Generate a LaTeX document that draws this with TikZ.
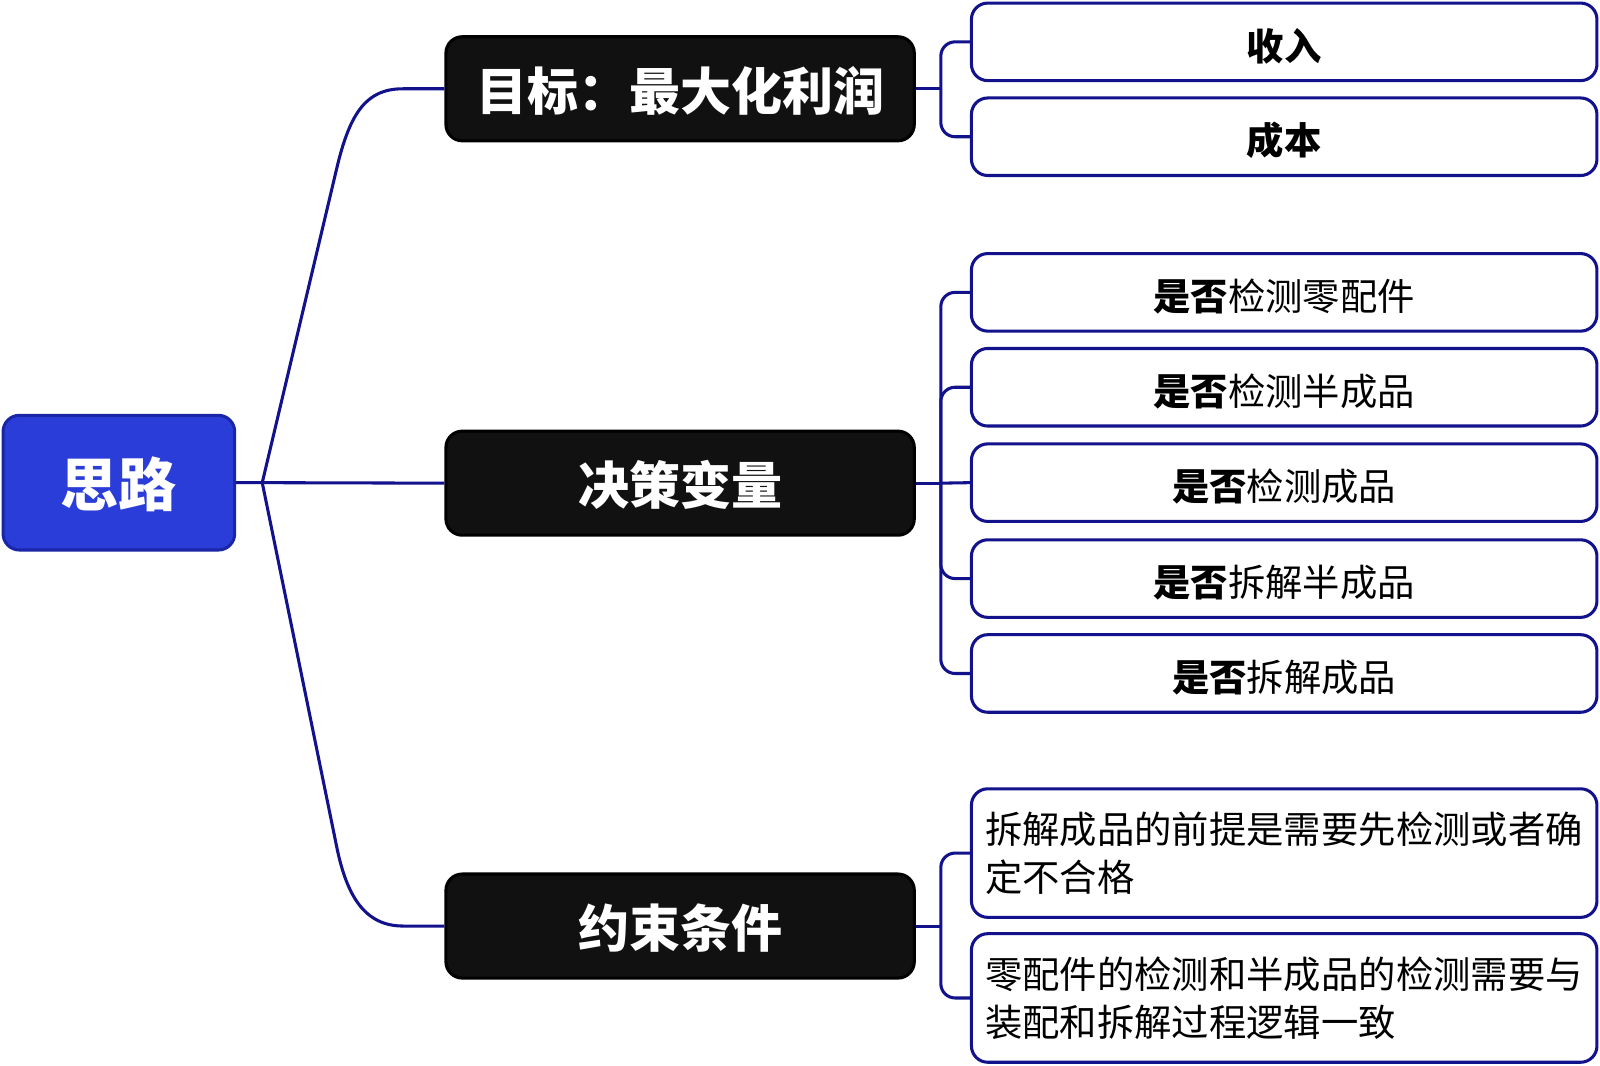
\documentclass[tikz,border=0pt]{standalone}
\usepackage{fontspec}
\setmainfont{Noto Sans CJK SC}
\definecolor{navy}{HTML}{12128C}
\definecolor{rootfill}{HTML}{2A3DD8}
\definecolor{rootline}{HTML}{1A26A6}
\definecolor{blk}{HTML}{111111}
\begin{document}
\begin{tikzpicture}[x=0.5pt,y=-0.5pt,
  rootbox/.style={draw=rootline,fill=rootfill,line width=1.5pt,rounded corners=8pt,
    minimum width=113.5pt,minimum height=66pt,inner sep=0pt,text=white,
    text height=27pt,text depth=3.4pt,
    font=\fontsize{28.5pt}{34pt}\selectfont\bfseries},
  mainbox/.style={draw=black,fill=blk,line width=1.5pt,rounded corners=8pt,
    minimum width=229.5pt,minimum height=51pt,inner sep=0pt,text=white,
    text height=24pt,text depth=3pt,
    font=\fontsize{25pt}{30pt}\selectfont\bfseries},
  leafbox/.style={draw=navy,fill=white,line width=1.5pt,rounded corners=8pt,
    minimum width=306.5pt,minimum height=38pt,inner sep=0pt,text=black,
    font=\fontsize{18.3pt}{23.5pt}\selectfont},
  onebox/.style={leafbox,text height=20pt,text depth=2.2pt},
  longbox/.style={leafbox,minimum height=63pt,align=left,text width=293pt},
  conn/.style={draw=navy,line width=1.5pt},
  brk/.style={conn,rounded corners=7pt}
]
\useasboundingbox (0,0) rectangle (1568,1043.7);

% root
\node[rootbox] (root) at (116.5,473) {思路};

% main nodes
\node[mainbox] (g1) at (666.5,87) {目标：最大化利润};
\node[mainbox] (g2) at (666.5,473.5) {决策变量};
\node[mainbox] (g3) at (666.5,907.5) {约束条件};

% leaves
\node[onebox] (a1) at (1258.5,41) {\textbf{收入}};
\node[onebox] (a2) at (1258.5,134) {\textbf{成本}};

\node[onebox] (b1) at (1258.5,286.5) {\textbf{是否}检测零配件};
\node[onebox] (b2) at (1258.5,379.5) {\textbf{是否}检测半成品};
\node[onebox] (b3) at (1258.5,473) {\textbf{是否}检测成品};
\node[onebox] (b4) at (1258.5,567) {\textbf{是否}拆解半成品};
\node[onebox] (b5) at (1258.5,660) {\textbf{是否}拆解成品};

\node[longbox] (c1) at (1258.5,836) {拆解成品的前提是需要先检测或者确\\定不合格};
\node[longbox] (c2) at (1258.5,978) {零配件的检测和半成品的检测需要与\\装配和拆解过程逻辑一致};

% root connectors
\coordinate (r0) at (257,473);
\draw[conn] (root.east) -- (r0) -- (g2.west);
\draw[conn] (r0) -- (330,165) .. controls (343.3,108.6) and (360,87) .. (395,87) -- (g1.west);
\draw[conn] (r0) -- (330,830) .. controls (340,879) and (358,907.5) .. (395,907.5) -- (g3.west);

% brackets
\coordinate (j1) at (922,87);
\coordinate (j2) at (922,473.5);
\coordinate (j3) at (922,907.5);
\draw[conn] (g1.east) -- (j1);
\draw[conn] (g2.east) -- (j2);
\draw[conn] (g3.east) -- (j3);
\foreach \c in {a1,a2} \draw[brk] (j1) |- (\c.west);
\foreach \c in {b1,b2,b4,b5} \draw[brk] (j2) |- (\c.west);
\draw[conn] (j2) -- (b3.west);
\foreach \c in {c1,c2} \draw[brk] (j3) |- (\c.west);
\end{tikzpicture}
\end{document}
